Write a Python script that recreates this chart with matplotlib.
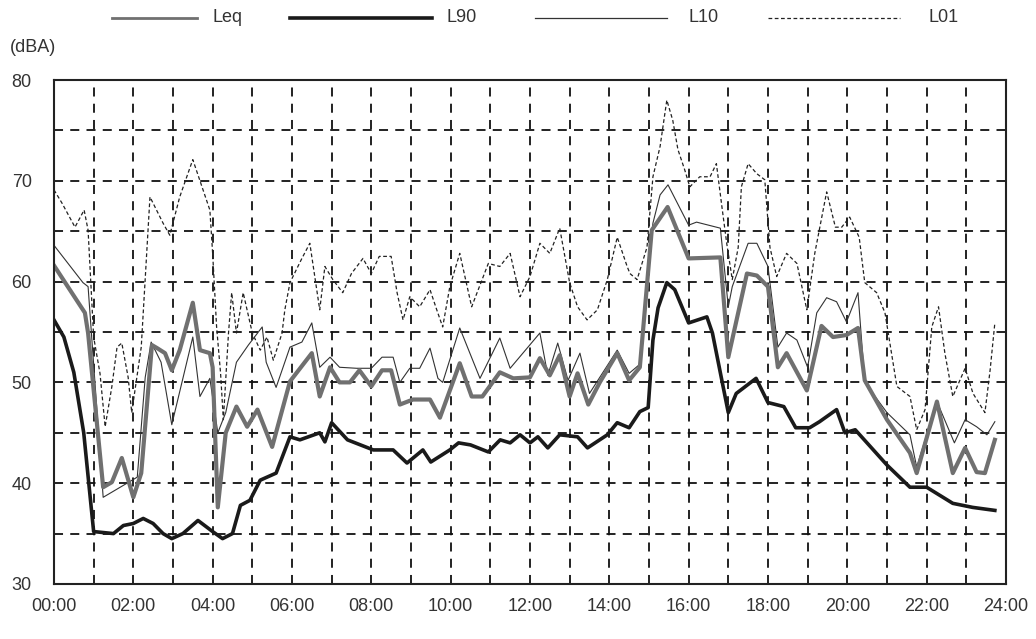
import matplotlib
matplotlib.use("Agg")
import matplotlib.pyplot as plt
from matplotlib.lines import Line2D

plt.rcParams['font.family'] = ['Liberation Sans', 'DejaVu Sans']

# time in hours, level in dBA
t_l90 = [0.0, 0.25, 0.5, 0.75, 1.0, 1.5, 1.75, 2.0, 2.25, 2.5, 2.75, 2.97, 3.25, 3.63, 4.0, 4.25,
         4.5, 4.7, 4.94, 5.2, 5.6, 5.95, 6.2, 6.7, 6.83, 7.0, 7.4, 8.05, 8.55, 8.9, 9.3, 9.5,
         9.98, 10.2, 10.5, 10.95, 11.25, 11.5, 11.75, 12.0, 12.2, 12.45, 12.75, 13.2, 13.45,
         13.95, 14.2, 14.5, 14.77, 14.98, 15.1, 15.23, 15.45, 15.65, 16.0, 16.46, 16.6, 17.0,
         17.2, 17.7, 18.0, 18.4, 18.7, 19.05, 19.3, 19.73, 19.94, 20.2, 21.0, 21.58, 22.0,
         22.66, 23.16, 23.72]
l90 = [56.2, 54.5, 51.0, 45.0, 35.2, 35.0, 35.8, 36.0, 36.5, 36.0, 35.0, 34.5, 35.0, 36.3, 35.2, 34.5,
       35.0, 37.8, 38.3, 40.3, 41.0, 44.6, 44.3, 45.0, 44.1, 46.0, 44.3, 43.3, 43.3, 42.0, 43.3, 42.1,
       43.3, 44.0, 43.8, 43.1, 44.3, 44.0, 44.8, 44.0, 44.6, 43.5, 44.8, 44.6, 43.5,
       44.8, 46.0, 45.5, 47.1, 47.5, 54.2, 57.4, 59.9, 59.2, 55.9, 56.5, 54.9, 47.0,
       48.9, 50.4, 48.0, 47.6, 45.5, 45.5, 46.1, 47.3, 45.0, 45.3, 41.8, 39.6, 39.6,
       38.0, 37.6, 37.3]

t_leq = [0.0, 0.78, 0.86, 1.24, 1.46, 1.71, 2.0, 2.2, 2.47, 2.6, 2.8, 2.97, 3.17, 3.5, 3.68, 3.93,
         4.0, 4.13, 4.33, 4.6, 4.87, 5.13, 5.5, 5.95, 6.5, 6.7, 6.96, 7.2, 7.46, 7.7, 8.0, 8.27,
         8.5, 8.72, 9.05, 9.48, 9.73, 10.23, 10.53, 10.8, 11.24, 11.58, 12.0, 12.25, 12.5,
         12.75, 13.0, 13.2, 13.47, 13.76, 14.2, 14.5, 14.77, 15.07, 15.47, 16.0, 16.8, 17.0,
         17.47, 17.72, 18.0, 18.25, 18.47, 18.98, 19.35, 19.64, 19.98, 20.27, 20.44, 21.0,
         21.58, 21.75, 22.26, 22.66, 22.97, 23.26, 23.47, 23.72]
leq = [61.6, 56.9, 54.9, 39.6, 40.1, 42.5, 38.6, 41.0, 53.7, 53.4, 52.9, 51.2, 53.2, 57.9, 53.2, 52.9,
       51.5, 37.6, 45.0, 47.6, 45.6, 47.3, 43.6, 50.1, 52.9, 48.6, 51.5, 50.0, 50.0, 51.2, 49.6, 51.2,
       51.2, 47.8, 48.3, 48.3, 46.5, 51.9, 48.6, 48.6, 51.0, 50.4, 50.5, 52.4, 50.7,
       52.7, 48.6, 50.9, 47.8, 50.0, 52.9, 50.2, 51.5, 65.1, 67.4, 62.3, 62.4, 52.5,
       60.8, 60.6, 59.5, 51.5, 52.9, 49.2, 55.6, 54.5, 54.7, 55.4, 50.2, 46.3,
       43.0, 41.0, 48.1, 41.0, 43.5, 41.1, 41.0, 44.3]

t_l10 = [0.0, 0.73, 0.86, 1.24, 2.1, 2.3, 2.45, 2.7, 2.97, 3.5, 3.68, 3.93, 4.13, 4.33, 4.6, 4.9,
         5.25, 5.35, 5.6, 5.95, 6.25, 6.5, 6.7, 6.96, 7.2, 7.63, 8.0, 8.27, 8.55, 8.72, 8.97,
         9.22, 9.48, 9.68, 9.8, 10.23, 10.74, 11.24, 11.5, 12.25, 12.45, 12.7, 12.96, 13.26,
         13.5, 13.76, 14.2, 14.5, 14.77, 15.1, 15.28, 15.48, 16.0, 16.2, 16.8, 17.0, 17.1,
         17.5, 17.72, 18.0, 18.25, 18.47, 18.73, 19.0, 19.23, 19.48, 19.73, 19.98, 20.27,
         20.44, 21.0, 21.58, 21.75, 22.26, 22.7, 22.97, 23.26, 23.52, 23.72]
l10 = [63.6, 59.9, 59.5, 38.6, 40.6, 50.5, 54.0, 52.0, 45.8, 54.5, 48.6, 50.4, 45.0, 47.0, 52.0, 53.7,
       55.5, 52.0, 49.5, 53.5, 54.0, 55.9, 51.5, 52.5, 51.5, 51.4, 51.4, 52.5, 52.5, 50.0, 51.4,
       51.4, 53.4, 50.4, 50.0, 55.4, 50.4, 54.4, 51.4, 54.9, 50.7, 53.9, 50.2, 52.9,
       48.9, 50.5, 53.2, 50.9, 51.8, 65.8, 68.6, 69.6, 65.6, 65.9, 65.3, 57.5, 59.5,
       63.8, 63.8, 61.5, 53.5, 54.9, 54.2, 51.5, 56.9, 58.4, 58.0, 56.0, 58.9,
       50.0, 47.0, 44.8, 41.6, 48.1, 44.0, 46.3, 45.6, 44.8, 46.1]

t_l01 = [0.0, 0.2, 0.53, 0.76, 0.86, 1.0, 1.16, 1.29, 1.46, 1.59, 1.71, 1.87, 1.96, 2.2, 2.42, 2.75,
         2.92, 3.17, 3.5, 3.93, 4.0, 4.1, 4.2, 4.27, 4.4, 4.48, 4.6, 4.77, 5.0, 5.2, 5.37, 5.53,
         5.75, 5.82, 5.95, 6.25, 6.45, 6.7, 6.83, 7.03, 7.28, 7.5, 7.79, 8.0, 8.2, 8.5, 8.65,
         8.8, 8.97, 9.22, 9.48, 9.65, 9.8, 9.98, 10.23, 10.53, 10.95, 11.24, 11.5, 11.75, 12.0,
         12.25, 12.5, 12.75, 13.0, 13.2, 13.44, 13.7, 13.95, 14.2, 14.45, 14.52, 14.7, 14.95,
         15.1, 15.28, 15.45, 15.6, 15.73, 15.9, 16.03, 16.28, 16.54, 16.7, 16.84, 16.96, 17.1,
         17.25, 17.33, 17.5, 17.72, 17.92, 18.05, 18.22, 18.47, 18.73, 18.98, 19.18, 19.48,
         19.7, 19.86, 20.06, 20.3, 20.44, 20.74, 20.95, 21.25, 21.58, 21.75, 21.96, 22.13,
         22.3, 22.46, 22.66, 22.97, 23.17, 23.47, 23.6, 23.72]
l01 = [69.1, 67.8, 65.4, 67.1, 65.1, 54.5, 50.9, 45.6, 49.6, 53.5, 53.9, 50.5, 47.0, 53.5, 68.4, 65.8,
       64.6, 68.4, 72.1, 67.1, 62.8, 55.5, 50.9, 46.3, 54.9, 58.9, 54.9, 58.9, 54.9, 53.2, 54.5, 52.2,
       54.9, 57.2, 59.9, 62.3, 63.8, 57.2, 61.5, 60.2, 58.9, 60.8, 62.3, 60.8, 62.5, 62.5, 58.9,
       56.2, 58.5, 57.5, 59.2, 57.2, 55.5, 59.5, 62.8, 57.5, 61.8, 61.5, 62.8, 58.5, 60.5,
       63.8, 62.8, 65.3, 59.9, 57.5, 56.2, 57.2, 60.2, 64.4, 61.5, 60.8, 60.2, 63.4,
       70.4, 73.4, 78.0, 76.0, 73.1, 71.1, 69.4, 70.4, 70.4, 71.7, 67.4, 63.8, 60.2,
       63.4, 69.4, 71.7, 70.7, 70.1, 63.4, 60.5, 62.8, 61.8, 57.2, 62.8, 68.9,
       65.4, 65.4, 66.4, 64.4, 59.9, 58.9, 56.9, 49.6, 48.6, 45.3, 47.3, 55.5,
       57.5, 52.9, 48.6, 51.4, 48.9, 47.0, 51.2, 55.9]

hours = list(range(0, 25))
hour_labels = ["%02d:00" % h if h % 2 == 0 else "" for h in hours]
db_ticks = list(range(30, 81, 5))
db_labels = [str(v) if v % 10 == 0 else "" for v in db_ticks]

fig = plt.figure(figsize=(10.36, 6.39), dpi=100)
ax = fig.add_axes([0.0521, 0.0861, 0.9189, 0.7887])

ax.plot(t_l01, l01, color='#222222', lw=0.9, ls=(0, (3, 2)))
ax.plot(t_l10, l10, color='#333333', lw=0.8)
ax.plot(t_leq, leq, color='#707070', lw=3.0)
ax.plot(t_l90, l90, color='#1a1a1a', lw=2.6)

ax.set_xlim(0, 24)
ax.set_ylim(30, 80)
ax.set_xticks(hours)
ax.set_xticklabels(hour_labels)
ax.set_yticks(db_ticks)
ax.set_yticklabels(db_labels)
ax.tick_params(length=0, labelsize=13, labelcolor='#333333')
ax.tick_params(axis='y', pad=16)
ax.tick_params(axis='x', pad=10)
ax.grid(True, color='#111111', ls=(0, (5, 4)), lw=1.3)
ax.set_axisbelow(True)
for s in ax.spines.values():
    s.set_linewidth(1.5)
    s.set_color('#222222')

fig.text(0.010, 0.925, "(dBA)", fontsize=13, color='#333333', va='center')

# legend drawn along the top
leg = [("Leq", '#707070', 2.0, '-', 112, 197, 212),
       ("L90", '#1a1a1a', 2.6, '-', 290, 432, 447),
       ("L10", '#333333', 0.9, '-', 535, 667, 688),
       ("L01", '#222222', 0.9, (0, (3, 2)), 768, 900, 928)]
W, H = 1036.0, 639.0
ly = 1 - 18 / H
for name, c, lw, ls, x0, x1, xt in leg:
    fig.add_artist(Line2D([x0 / W, x1 / W], [ly, ly], color=c, lw=lw, ls=ls, transform=fig.transFigure))
    fig.text(xt / W, ly, name, fontsize=13, color='#333333', va='center')

fig.savefig("out.png", dpi=100)
